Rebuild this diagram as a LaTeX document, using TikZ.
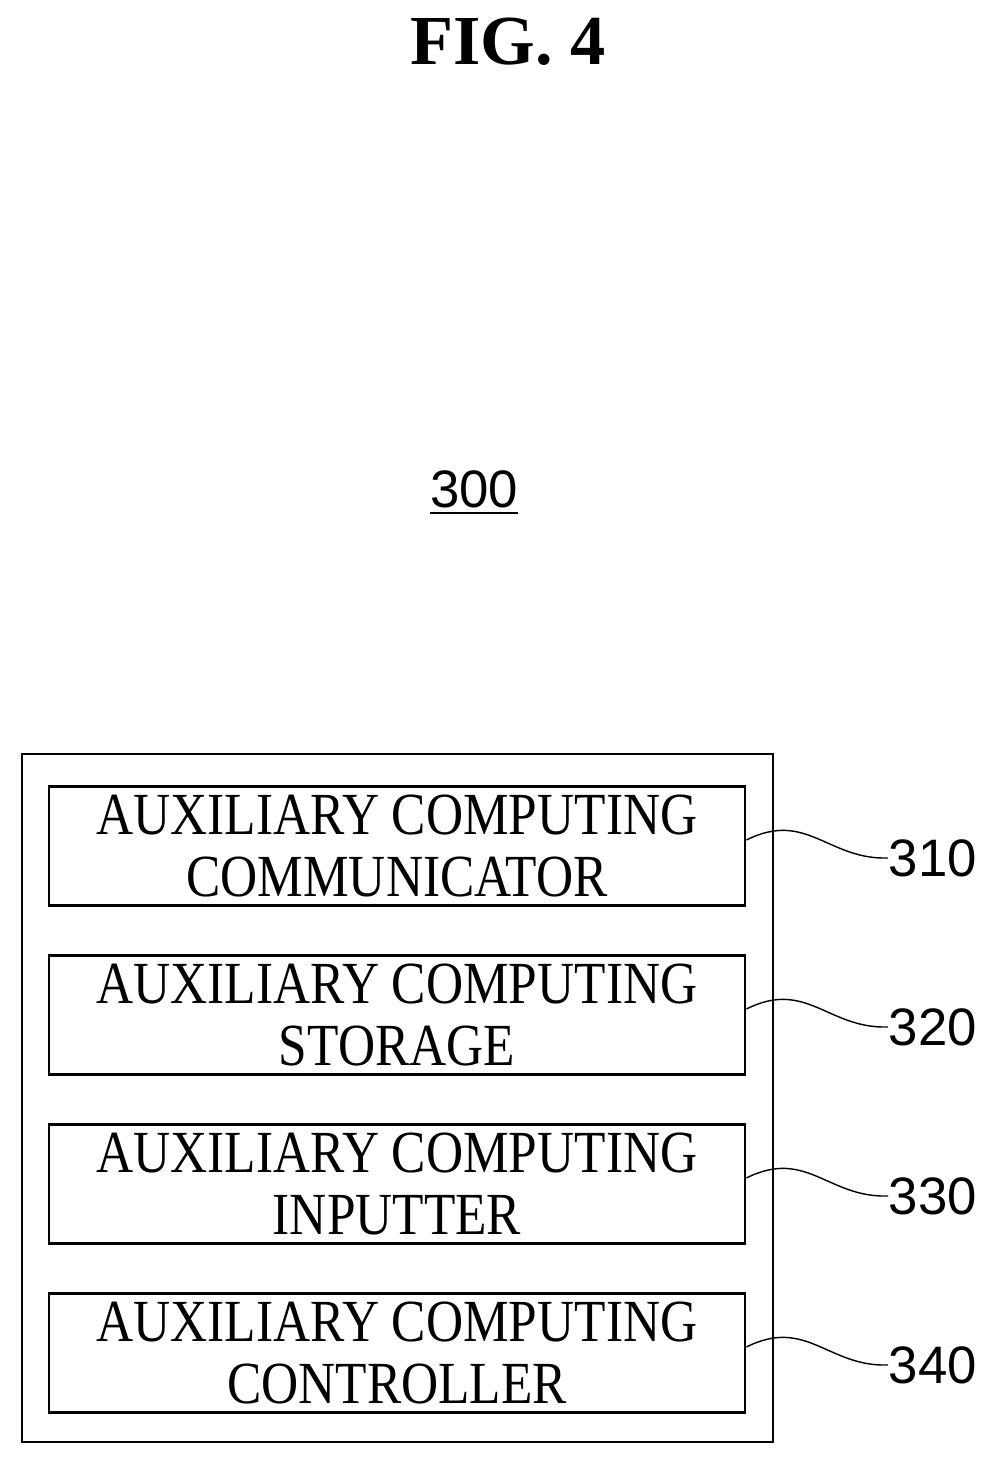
\documentclass[tikz,border=0pt]{standalone}
\usepackage{fontspec}
\setmainfont{Liberation Serif}
\setsansfont{Liberation Sans}
\newfontfamily\boxfont[FakeStretch=0.86]{Liberation Serif}
\usetikzlibrary{positioning}

\tikzset{
	block/.style={draw, thick, minimum width=6.96cm, minimum height=1.19cm, align=center, inner sep=0pt,
		font=\boxfont\fontsize{17}{17.6}\selectfont},
	reflabel/.style={anchor=west, inner sep=0pt, font=\sffamily\fontsize{15}{15}\selectfont},
	lead/.style={thin}
}

\begin{document}
\begin{tikzpicture}
	\useasboundingbox (0,0) rectangle (9.87,14.64);

	\node (title) at (5.08,14.22) {\fontsize{20}{22}\bfseries\selectfont FIG. 4};
	\node (sys) at (4.74,9.71) {\sffamily\fontsize{15}{15}\selectfont\underline{300}};

	\draw[thick] (0.22,0.22) rectangle (7.73,7.10);

	\node[block] (comm) at (3.97,6.18) {AUXILIARY COMPUTING\\COMMUNICATOR};
	\node[block] (stor) at (3.97,4.49) {AUXILIARY COMPUTING\\STORAGE};
	\node[block] (inp)  at (3.97,2.80) {AUXILIARY COMPUTING\\INPUTTER};
	\node[block] (ctrl) at (3.97,1.11) {AUXILIARY COMPUTING\\CONTROLLER};

	\node[reflabel] (l310) at (8.88,6.06) {310};
	\node[reflabel] (l320) at (8.88,4.37) {320};
	\node[reflabel] (l330) at (8.88,2.68) {330};
	\node[reflabel] (l340) at (8.88,0.99) {340};

	\draw[lead] ([yshift=0.06cm]comm.east) .. controls +(0.6,0.3) and +(-0.6,-0.02) .. (l310.west);
	\draw[lead] ([yshift=0.06cm]stor.east) .. controls +(0.6,0.3) and +(-0.6,-0.02) .. (l320.west);
	\draw[lead] ([yshift=0.06cm]inp.east)  .. controls +(0.6,0.3) and +(-0.6,-0.02) .. (l330.west);
	\draw[lead] ([yshift=0.06cm]ctrl.east) .. controls +(0.6,0.3) and +(-0.6,-0.02) .. (l340.west);
\end{tikzpicture}
\end{document}
